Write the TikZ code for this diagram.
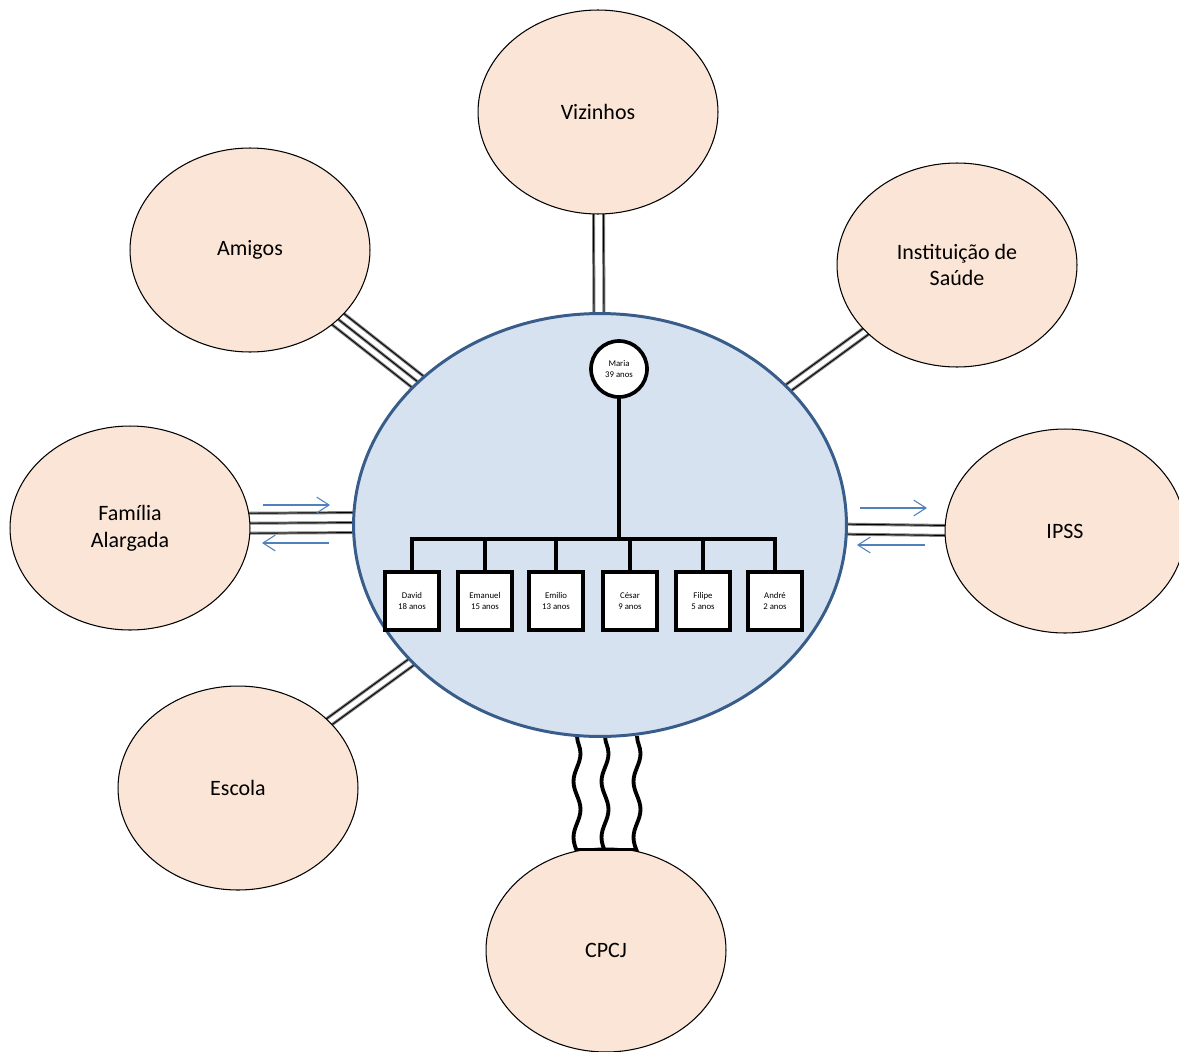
\documentclass[tikz,border=0pt]{standalone}
\usepackage{fontspec}
\setmainfont{Carlito}
\usetikzlibrary{shapes.geometric,calc,backgrounds,arrows.meta,decorations.pathmorphing}

\definecolor{peach}{RGB}{251,229,214}
\definecolor{famfill}{RGB}{215,226,240}
\definecolor{famline}{RGB}{56,93,138}
\definecolor{flowblue}{RGB}{79,129,189}

\begin{document}
\begin{tikzpicture}
  [x=0.02cm,y=-0.02cm,
   every node/.style={font=\fontsize{12.5}{15.3}\selectfont,align=center},
   system/.style={ellipse,draw=black,line width=0.6pt,fill=peach,
     minimum width=4.8cm,minimum height=4.08cm,inner sep=0pt},
   family/.style={ellipse,draw=famline,line width=1.7pt,fill=famfill,
     minimum width=9.86cm,minimum height=8.46cm,inner sep=0pt},
   person/.style={draw=black,line width=2.1pt,fill=white,inner sep=0pt,
     font=\fontsize{5}{6}\selectfont,minimum width=1.08cm,minimum height=1.16cm},
   mother/.style={circle,draw=black,line width=2.1pt,fill=white,inner sep=0pt,
     font=\fontsize{5}{6}\selectfont,minimum size=1.12cm},
   tree/.style={line width=2.1pt,line cap=rect},
   tie/.style={draw=black,line width=0.5pt,preaction={draw=black!50,line width=1.7pt}},
   flow/.style={draw=flowblue,line width=0.6pt,-{Straight Barb[length=7pt,width=9pt]}},
   stress/.style={line width=2.2pt,decorate,
     decoration={snake,amplitude=0.07cm,segment length=1.12cm}}]
  \useasboundingbox (0,0) rectangle (1179,1051);

  % family in the middle
  \node[family] (nucleo) at (600,525) {};
  \node[mother] (maria) at (619,369) {Maria\\39 anos};
  \coordinate (fork) at (619,539);
  \node[person] (david) at (412,601) {David\\18 anos};
  \node[person] (emanuel) at (485,601) {Emanuel\\15 anos};
  \node[person] (emilio) at (556,601) {Emilio\\13 anos};
  \node[person] (cesar) at (630,601) {César\\9 anos};
  \node[person] (filipe) at (703,601) {Filipe\\5 anos};
  \node[person] (andre) at (775,601) {André\\2 anos};
  \draw[tree] (maria) -- (fork);
  \draw[tree] (fork -| david) -- (fork -| andre);
  \foreach \kid in {david,emanuel,emilio,cesar,filipe,andre}
    \draw[tree] (fork -| \kid) -- (\kid);

  % systems around it
  \node[system] (vizinhos) at (598,112) {Vizinhos};
  \node[system] (amigos) at (250,250) {Amigos};
  \node[system] (saude) at (957,265) {Instituição de\\Saúde};
  \node[system] (alargada) at (130,528) {Família\\Alargada};
  \node[system] (ipss) at (1065,531) {IPSS};
  \node[system] (escola) at (238,788) {Escola};
  \node[system] (cpcj) at (606,950) {CPCJ};

  \begin{pgfonlayer}{background}
    \fill[white] (0,0) rectangle (1179,1051);
    \foreach \d in {-5,5}
      \draw[tie] ($(vizinhos)!\d*0.02cm!90:(nucleo)$) -- ($(nucleo)!\d*0.02cm!-90:(vizinhos)$);
    \foreach \d in {-8,0,8}
      \draw[tie] ($(amigos)!\d*0.02cm!90:(nucleo)$) -- ($(nucleo)!\d*0.02cm!-90:(amigos)$);
    \foreach \d in {-4,4}
      \draw[tie] ($(saude)!\d*0.02cm!90:(nucleo)$) -- ($(nucleo)!\d*0.02cm!-90:(saude)$);
    \foreach \d in {-6,4,14}
      \draw[tie] ($(alargada)!\d*0.02cm!90:(nucleo)$) -- ($(nucleo)!\d*0.02cm!-90:(alargada)$);
    \foreach \d in {-4,6}
      \draw[tie] ($(ipss)!\d*0.02cm!90:(nucleo)$) -- ($(nucleo)!\d*0.02cm!-90:(ipss)$);
    \foreach \d in {-4,4}
      \draw[tie] ($(escola)!\d*0.02cm!90:(nucleo)$) -- ($(nucleo)!\d*0.02cm!-90:(escola)$);
    \foreach \dx in {-29,-1,31}
      \draw[stress] ($(nucleo.south -| cpcj.north)+(\dx,-2)$) -- ($(cpcj.north)+(\dx,50)$);
  \end{pgfonlayer}
  \draw[line width=1.4pt] ($(cpcj.north)+(-29,2)$) -- ($(cpcj.north)+(31,2)$);

  % exchanges
  \coordinate (a1) at (263,505); \coordinate (a2) at (330,505);
  \coordinate (a3) at (329,543); \coordinate (a4) at (262,543);
  \coordinate (b1) at (860,508); \coordinate (b2) at (927,508);
  \coordinate (b3) at (925,545); \coordinate (b4) at (857,545);
  \draw[flow] (a1) -- (a2);
  \draw[flow] (a3) -- (a4);
  \draw[flow] (b1) -- (b2);
  \draw[flow] (b3) -- (b4);
\end{tikzpicture}
\end{document}
